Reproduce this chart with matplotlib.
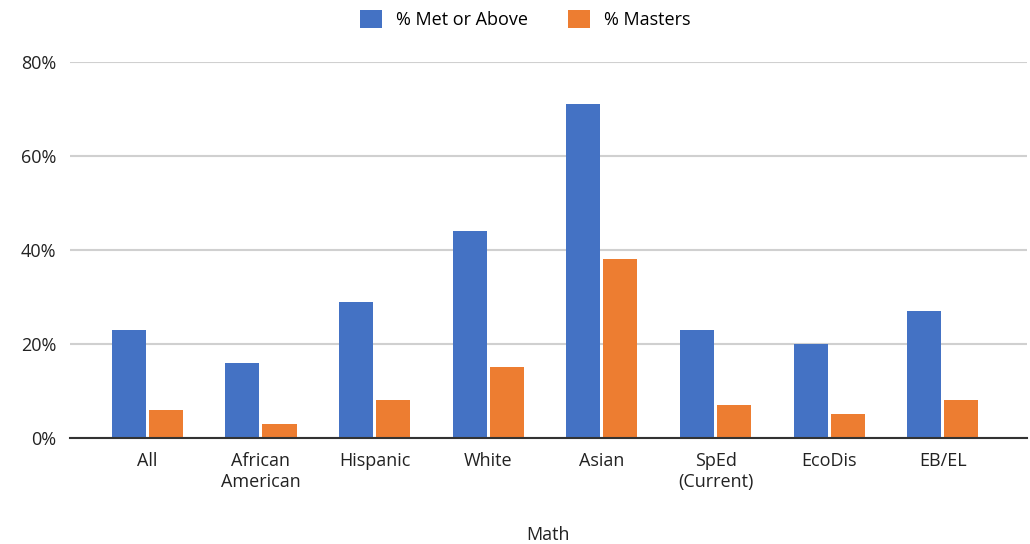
import numpy as np
import matplotlib
matplotlib.use("Agg")
import matplotlib.pyplot as plt

categorias = ["All", "African\nAmerican", "Hispanic", "White", "Asian",
              "SpEd\n(Current)", "EcoDis", "EB/EL"]
met_or_above = [23, 16, 29, 44, 71, 23, 20, 27]
masters = [6, 3, 8, 15, 38, 7, 5, 8]
series = ["% Met or Above", "% Masters"]
yticks = [0, 20, 40, 60, 80]

plt.rcParams['font.family'] = ['Open Sans', 'DejaVu Sans']

fig = plt.figure(figsize=(10.3, 5.44), dpi=100)
ax = fig.add_axes([0.068, 0.195, 0.929, 0.691])

x = np.arange(len(categorias))
ancho = 0.3
ax.bar(x - 0.163, met_or_above, ancho, color="#4472C4", label=series[0], zorder=3)
ax.bar(x + 0.163, masters, ancho, color="#ED7D31", label=series[1], zorder=3)

ax.set_xlim(-0.68, 7.74)
ax.set_ylim(0, 80)
ax.set_yticks(yticks)
ax.set_yticklabels([f"{v}%" for v in yticks], fontsize=13, color="#222222")
ax.set_xticks(x)
ax.set_xticklabels(categorias, fontsize=13, color="#222222", linespacing=1.2)
ax.tick_params(axis="both", length=0)
ax.tick_params(axis="x", pad=10)
ax.tick_params(axis="y", pad=10)

ax.grid(axis="y", color="#d0d0d0", linewidth=1.5, zorder=0)
for s in ["top", "right", "left"]:
    ax.spines[s].set_visible(False)
ax.spines["bottom"].set_color("#333333")
ax.spines["bottom"].set_linewidth(1.5)
ax.spines["bottom"].set_zorder(4)

fig.text(0.532, 0.008, "Math", ha="center", fontsize=13, color="#222222")
fig.legend(loc="upper center", bbox_to_anchor=(0.51, 1.012), ncol=2, frameon=False,
           fontsize=13, handlelength=1.2, handleheight=1.2, columnspacing=2.2,
           handletextpad=0.8)

plt.savefig("out.png", dpi=100)
